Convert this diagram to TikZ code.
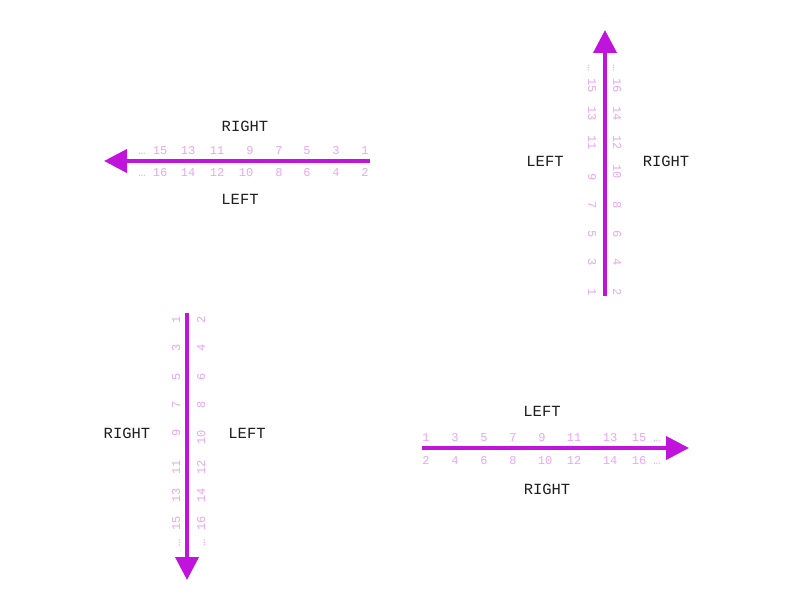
\documentclass[tikz,border=0pt]{standalone}
\usepackage{fontspec}
\newfontfamily\monofam{Liberation Mono}
\usetikzlibrary{arrows.meta}
\definecolor{arrowc}{HTML}{C014DC}
\definecolor{numc}{HTML}{E9A6F2}
\definecolor{labc}{HTML}{1E1E1E}
\tikzset{
  axisline/.style={draw=arrowc, line width=4pt, -{Triangle[length=23pt,width=23pt]}},
  numlab/.style={text=numc, font=\monofam\fontsize{12}{13}\selectfont, inner sep=0pt, anchor=base},
  sidelab/.style={text=labc, font=\monofam\fontsize{15.5}{17}\selectfont, inner sep=0pt},
}
\begin{document}
\begin{tikzpicture}[x=1pt,y=-1pt]
\useasboundingbox (0,0) rectangle (792,612);
% ---------- panel 1: arrow pointing left ----------
\coordinate (a1s) at (370,161);
\coordinate (a1e) at (104,161);
\draw[axisline] (a1s) -- (a1e);
\foreach \n/\x in {1/365,3/336,5/307,7/279,9/250,11/217,13/188,15/160}
  \node[numlab] (pa\n) at (\x,155) {\n};
\foreach \n/\x in {2/365,4/336,6/307,8/279,10/246,12/217,14/188,16/160}
  \node[numlab] (pa\n) at (\x,177) {\n};
\node[numlab] (padt) at (142,155) {…};
\node[numlab] (padb) at (142,177) {…};
\node[sidelab] (paR) at (245,126) {RIGHT};
\node[sidelab] (paL) at (240,199) {LEFT};
% ---------- panel 2: arrow pointing up ----------
\coordinate (a2s) at (605,296);
\coordinate (a2e) at (605,30);
\draw[axisline] (a2s) -- (a2e);
\foreach \n/\y in {1/292,3/262,5/234,7/205,9/177,11/143,13/114,15/86}
  \node[numlab, rotate=-90] (pb\n) at (588,\y) {\n};
\foreach \n/\y in {2/292,4/262,6/234,8/205,10/172,12/143,14/114,16/86}
  \node[numlab, rotate=-90] (pb\n) at (613,\y) {\n};
\node[numlab, rotate=-90] (pbdl) at (588,68) {…};
\node[numlab, rotate=-90] (pbdr) at (613,68) {…};
\node[sidelab] (pbL) at (545,161) {LEFT};
\node[sidelab] (pbR) at (666,161) {RIGHT};
% ---------- panel 3: arrow pointing down ----------
\coordinate (a3s) at (187,313);
\coordinate (a3e) at (187,580);
\draw[axisline] (a3s) -- (a3e);
\foreach \n/\y in {1/320,3/348,5/377,7/405,9/433,11/467,13/495,15/523}
  \node[numlab, rotate=90] (pc\n) at (180,\y) {\n};
\foreach \n/\y in {2/320,4/348,6/377,8/405,10/437,12/467,14/495,16/523}
  \node[numlab, rotate=90] (pc\n) at (205,\y) {\n};
\node[numlab, rotate=90] (pcdl) at (180,543) {…};
\node[numlab, rotate=90] (pcdr) at (205,543) {…};
\node[sidelab] (pcR) at (127,433) {RIGHT};
\node[sidelab] (pcL) at (247,433) {LEFT};
% ---------- panel 4: arrow pointing right ----------
\coordinate (a4s) at (422,448);
\coordinate (a4e) at (689,448);
\draw[axisline] (a4s) -- (a4e);
\foreach \n/\x in {1/426,3/455,5/484,7/513,9/542,11/574,13/610,15/639}
  \node[numlab] (pd\n) at (\x,441) {\n};
\foreach \n/\x in {2/426,4/455,6/484,8/513,10/545,12/574,14/610,16/639}
  \node[numlab] (pd\n) at (\x,464) {\n};
\node[numlab] (pddt) at (657,441) {…};
\node[numlab] (pddb) at (657,464) {…};
\node[sidelab] (pdL) at (542,411) {LEFT};
\node[sidelab] (pdR) at (547,489) {RIGHT};
\end{tikzpicture}
\end{document}
